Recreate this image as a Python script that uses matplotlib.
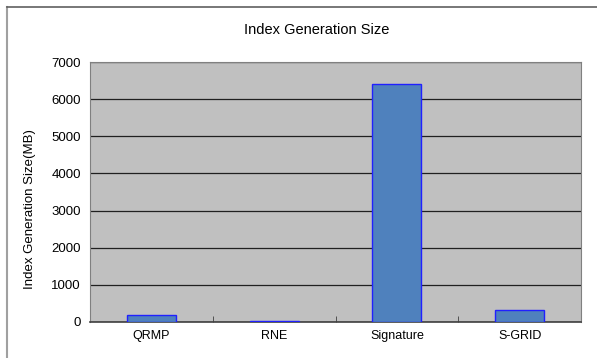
import matplotlib.pyplot as plt
from matplotlib.lines import Line2D

methods = ["QRMP", "RNE", "Signature", "S-GRID"]
index_size = [200, 20, 6400, 320]
y_ticks = [0, 1000, 2000, 3000, 4000, 5000, 6000, 7000]

plt.rcParams['font.family'] = ['Liberation Sans', 'DejaVu Sans']

fig = plt.figure(figsize=(5.97, 3.58), dpi=100)
ax = fig.add_axes([0.1508, 0.1006, 0.8225, 0.7262])

ax.set_facecolor('#C0C0C0')
ax.bar(range(len(methods)), index_size, width=0.4,
       color='#4F81BD', edgecolor='#2020FF', linewidth=1, zorder=3)

ax.set_xlim(-0.5, len(methods) - 0.5)
ax.set_ylim(0, 7000)
ax.set_yticks(y_ticks)
ax.set_yticklabels([str(t) for t in y_ticks], fontsize=9.5)
ax.yaxis.grid(True, color='#202020', linewidth=0.9, zorder=1)

# category labels centred under bars, tick marks between categories
ax.set_xticks(range(len(methods)))
ax.set_xticklabels(methods, fontsize=9)
ax.tick_params(axis='x', length=0, pad=6)
ax.tick_params(axis='y', length=0, pad=6.5)
ax.set_xticks([0.5, 1.5, 2.5], minor=True)
ax.tick_params(axis='x', which='minor', length=4, direction='in', color='#404040')

for side in ['top', 'right']:
    ax.spines[side].set_color('#808080')
ax.spines['left'].set_color('#808080')
ax.spines['bottom'].set_color('#404040')
ax.spines['bottom'].set_linewidth(1.2)

ax.set_ylabel("Index Generation Size(MB)", fontsize=9.5)
ax.yaxis.set_label_coords(-0.11, 0.435)
fig.text(0.53, 0.915, "Index Generation Size", ha='center', va='center', fontsize=10.5)

# outer chart frame lines
fig.add_artist(Line2D([7 / 597, 7 / 597], [0, 1 - 7 / 358], color='#A0A0A0', linewidth=1.5))
fig.add_artist(Line2D([7 / 597, 1], [1 - 7 / 358, 1 - 7 / 358], color='#606060', linewidth=1.2))

fig.savefig('out.png', dpi=100)
